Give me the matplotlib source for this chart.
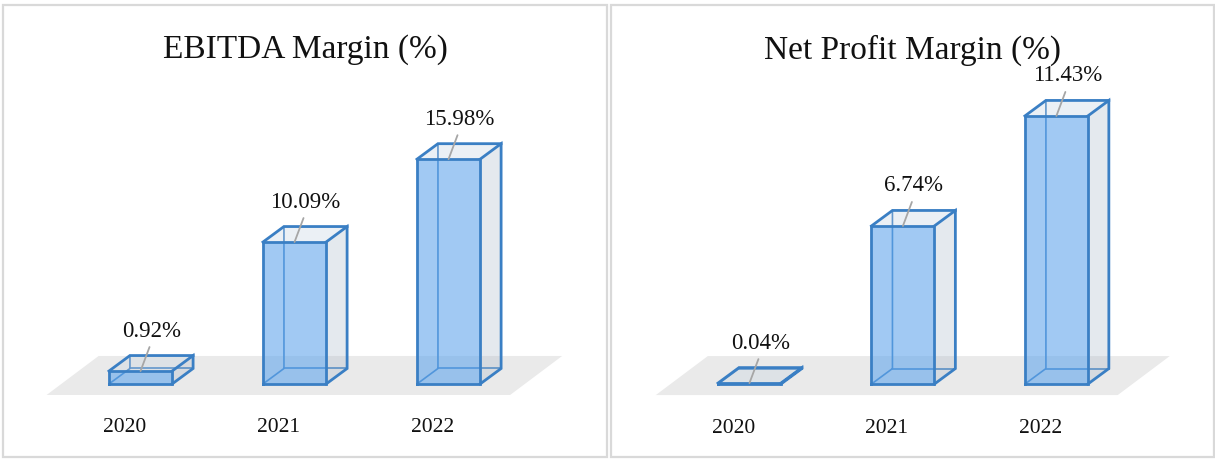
import matplotlib
matplotlib.use("Agg")
import matplotlib.pyplot as plt
from matplotlib.patches import Polygon, Rectangle

plt.rcParams['font.family'] = ['Liberation Serif', 'DejaVu Serif']

# ---- data ----
years = ["2020", "2021", "2022"]
ebitda_margin = [0.92, 10.09, 15.98]
net_profit_margin = [0.04, 6.74, 11.43]
titles = ["EBITDA Margin (%)", "Net Profit Margin (%)"]

# ---- styles ----
W, H, DPI = 1215, 461, 100
FRONT = '#62A6EC'
SIDE = '#A8B8C8'
TOP = '#C0D0E0'
EDGE = '#3A7FC4'
FLOOR = '#EAEAEA'
LEADER = '#A6A6A6'
FRAME = '#D9D9D9'

BAR_W = 0.41           # front face width in category units
DEPTH_PX = (21, 15.5)  # bar depth offset in pixels
FLOOR_PX = (52, 39)    # floor depth offset in pixels
FLOOR_DROP_PX = 11     # floor front edge below bar base
FLOOR_X = (-0.61, 2.40)

fig = plt.figure(figsize=(W / DPI, H / DPI), dpi=DPI)

# panel boxes in pixels (left, top, right, bottom) and axis limits
panels = [
    dict(box=(3, 5, 607, 457), xlim=(-0.893, 3.029), ylim=(-5.19, 26.94),
         values=ebitda_margin, title=titles[0]),
    dict(box=(611, 5, 1214, 457), xlim=(-0.902, 3.027), ylim=(-3.11, 16.16),
         values=net_profit_margin, title=titles[1]),
]


def px_to_data(ax, dx, dy):
    inv = ax.transData.inverted()
    o = ax.transData.transform((0, 0))
    p = inv.transform((o[0] + dx, o[1] + dy))
    return p[0], p[1]


for p in panels:
    l, t, r, b = p['box']
    ax = fig.add_axes([l / W, 1 - b / H, (r - l) / W, (b - t) / H])
    ax.set_xlim(*p['xlim'])
    ax.set_ylim(*p['ylim'])
    ax.axis('off')

    ax.add_patch(Rectangle((0, 0), 1, 1, transform=ax.transAxes, fill=False,
                           edgecolor=FRAME, lw=1.6, clip_on=False))

    ax.text(0.5, 1 - 45 / (b - t), p['title'], transform=ax.transAxes,
            ha='center', va='center', fontsize=24, color='#111111')

    # floor
    fdx, fdy = px_to_data(ax, *FLOOR_PX)
    _, drop = px_to_data(ax, 0, -FLOOR_DROP_PX)
    x0, x1 = FLOOR_X
    ax.add_patch(Polygon([(x0, drop), (x1, drop), (x1 + fdx, drop + fdy),
                          (x0 + fdx, drop + fdy)], closed=True,
                         facecolor=FLOOR, edgecolor='none', zorder=1))

    ddx, ddy = px_to_data(ax, *DEPTH_PX)
    for i, (yr, v) in enumerate(zip(years, p['values'])):
        xl, xr = i - BAR_W / 2, i + BAR_W / 2
        # hidden back edges seen through the transparent faces
        ax.plot([xl, xl + ddx, xl + ddx], [0, ddy, v + ddy],
                color=EDGE, lw=1.2, zorder=2, solid_capstyle='round')
        ax.plot([xl + ddx, xr + ddx], [ddy, ddy], color=EDGE, lw=1.2,
                zorder=2)
        # right side face
        ax.add_patch(Polygon([(xr, 0), (xr + ddx, ddy), (xr + ddx, v + ddy),
                              (xr, v)], closed=True, facecolor=SIDE,
                             alpha=0.3, edgecolor='none', zorder=3))
        # top face
        ax.add_patch(Polygon([(xl, v), (xr, v), (xr + ddx, v + ddy),
                              (xl + ddx, v + ddy)], closed=True,
                             facecolor=TOP, alpha=0.3, edgecolor='none',
                             zorder=3))
        # front face
        ax.add_patch(Rectangle((xl, 0), BAR_W, v, facecolor=FRONT,
                               alpha=0.6, edgecolor='none', zorder=4))
        # visible outline
        ax.plot([xl, xr, xr, xl, xl], [0, 0, v, v, 0], color=EDGE, lw=2.0,
                zorder=5, solid_joinstyle='miter')
        ax.plot([xr, xr + ddx, xr + ddx, xr], [0, ddy, v + ddy, v],
                color=EDGE, lw=2.0, zorder=5, solid_joinstyle='miter')
        ax.plot([xl, xl + ddx, xr + ddx], [v, v + ddy, v + ddy],
                color=EDGE, lw=2.0, zorder=5, solid_joinstyle='miter')

        # leader line and value label
        ax.annotate('', xy=(i, v), xytext=(9, 24), textcoords='offset pixels',
                    arrowprops=dict(arrowstyle='-', color=LEADER, lw=1.3,
                                    shrinkA=0, shrinkB=0), zorder=6)
        ax.annotate(f"{v:.2f}%", xy=(i, v), xytext=(11, 40),
                    textcoords='offset pixels', ha='center', va='center',
                    fontsize=16.5, color='#111111', zorder=7)
        # category label
        ax.annotate(yr, xy=(i, 0), xytext=(-16, -44),
                    textcoords='offset pixels', ha='center', va='center',
                    fontsize=15.5, color='#111111')

fig.savefig("out.png", dpi=DPI, facecolor='white')
